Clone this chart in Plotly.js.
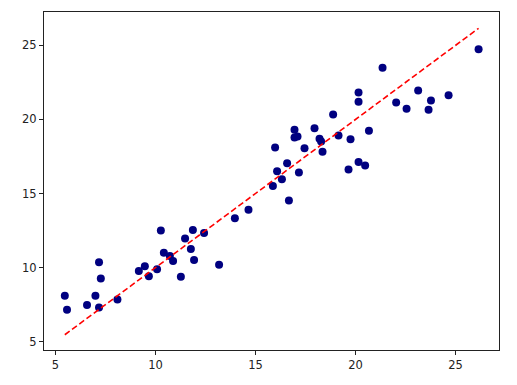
<!DOCTYPE html>
<html>
<head>
<meta charset="utf-8">
<script src="https://cdn.plot.ly/plotly-3.0.1.min.js"></script>
<style>html,body{margin:0;padding:0;background:#fff;}#chart{width:517px;height:385px;}</style>
</head>
<body>
<div id="chart"></div>
<script>
const actual = [5.47, 5.58, 6.58, 7.0, 7.18, 7.18, 7.27, 8.1, 9.17, 9.47, 9.67, 10.08, 10.27, 10.42, 10.72, 10.88, 11.27, 11.48, 11.77, 11.87, 11.93, 12.43, 13.18, 13.97, 14.65,
  15.87, 15.98, 16.08, 16.32, 16.58, 16.67, 16.95, 16.95, 17.1, 17.17, 17.45, 17.95, 18.2, 18.28, 18.35, 18.88, 19.15, 19.65, 19.75, 20.15, 20.15, 20.15, 20.48, 20.67,
  21.35, 22.03, 22.55, 23.13, 23.65, 23.77, 24.65, 26.15];
const predicted = [8.1, 7.15, 7.47, 8.1, 10.37, 7.3, 9.26, 7.84, 9.77, 10.1, 9.41, 9.89, 12.5, 11.01, 10.79, 10.45, 9.39, 11.96, 11.25, 12.54, 10.52, 12.34, 10.2, 13.33, 13.9,
  15.5, 18.11, 16.51, 15.97, 17.05, 14.53, 19.3, 18.78, 18.85, 16.42, 18.06, 19.41, 18.69, 18.51, 17.82, 20.34, 18.92, 16.62, 18.67, 21.82, 21.19, 17.12, 16.89, 19.23,
  23.49, 21.15, 20.72, 21.96, 20.65, 21.28, 21.64, 24.73];

const lo = Math.min(...actual), hi = Math.max(...actual);
const traces = [
  {x: actual, y: predicted, type: 'scatter', mode: 'markers',
   marker: {color: '#000080', size: 8}, hoverinfo: 'none'},
  {x: [lo, hi], y: [lo, hi], type: 'scatter', mode: 'lines',
   line: {color: '#ff0000', width: 1.6, dash: '6px,3px'}, hoverinfo: 'none'}
];
const axisBase = {
  showgrid: false, zeroline: false, showline: true, mirror: true,
  linecolor: '#222', linewidth: 1, ticks: 'outside', ticklen: 4, tickwidth: 1,
  tickcolor: '#222', tickfont: {family: 'DejaVu Sans', size: 11.5, color: '#222'}
};
const layout = {
  width: 517, height: 385, showlegend: false,
  margin: {l: 44, r: 18, t: 12, b: 35},
  paper_bgcolor: '#fff', plot_bgcolor: '#fff',
  xaxis: Object.assign({}, axisBase, {range: [4.43, 27.17], tickvals: [5, 10, 15, 20, 25]}),
  yaxis: Object.assign({}, axisBase, {range: [4.44, 27.25], tickvals: [5, 10, 15, 20, 25]})
};
Plotly.newPlot('chart', traces, layout, {displayModeBar: false, staticPlot: true});
</script>
</body>
</html>
